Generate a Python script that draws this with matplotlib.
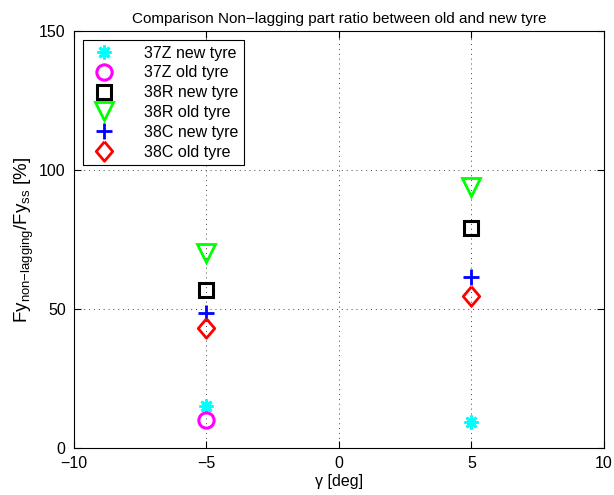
import numpy as np
import matplotlib.pyplot as plt

plt.rcParams['font.family'] = ['Liberation Sans', 'DejaVu Sans']
plt.rcParams['mathtext.fontset'] = 'custom'
plt.rcParams['mathtext.rm'] = 'Liberation Sans'

# camber angles [deg]
gamma = [-5, 5]

# non-lagging part ratio [%]
z37_new = [15.1, 9.3]
z37_old = [9.9, np.nan]
r38_new = [56.7, 79.0]
r38_old = [70.0, 93.8]
c38_new = [48.7, 61.6]
c38_old = [43.0, 54.7]

labels = ['37Z new tyre', '37Z old tyre', '38R new tyre',
          '38R old tyre', '38C new tyre', '38C old tyre']

fs = 11.5
diamond = [(0, 1), (0.85, 0), (0, -1), (-0.85, 0), (0, 1)]

fig = plt.figure(figsize=(6.14, 4.95), dpi=100)
ax = fig.add_axes([0.1205, 0.095, 0.863, 0.842])

ax.plot(gamma, z37_new, ls='none', marker=(8, 2, 0), ms=10, mew=2, color='#00ffff', label=labels[0])
ax.plot(gamma, z37_old, ls='none', marker='o', ms=11, mew=2.2, mfc='none', color='#ff00ff', label=labels[1])
ax.plot(gamma, r38_new, ls='none', marker='s', ms=10, mew=2.2, mfc='none', color='k', label=labels[2])
ax.plot(gamma, r38_old, ls='none', marker='v', ms=13, mew=2, mfc='none', color='#00ff00', label=labels[3])
ax.plot(gamma, c38_new, ls='none', marker='+', ms=12, mew=2, color='#0000ff', label=labels[4])
ax.plot(gamma, c38_old, ls='none', marker=diamond, ms=14, mew=2, mfc='none', color='#ff0000', label=labels[5])

ax.set_xlim(-10, 10)
ax.set_ylim(0, 150)
ax.set_xticks([-10, -5, 0, 5, 10])
ax.set_yticks([0, 50, 100, 150])
ax.grid(True, ls=(0, (1, 4)), lw=0.7, color='#444444')
ax.tick_params(direction='in', top=True, right=True, length=5, labelsize=fs, pad=6)
ax.xaxis.set_major_formatter(plt.FuncFormatter(lambda v, p: f'{v:g}'.replace('-', '\u2212')))

ax.set_title('Comparison Non\u2212lagging part ratio between old and new tyre', fontsize=11, pad=6)
ax.set_xlabel('\u03b3 [deg]', fontsize=fs, labelpad=2)
ax.set_ylabel(r'Fy$_{\mathregular{non{-}lagging}}$/Fy$_{\mathregular{ss}}$ [%]', fontsize=13.5, labelpad=2)

leg = ax.legend(loc='upper left', fontsize=fs, fancybox=False, edgecolor='k',
                framealpha=1, borderaxespad=0.55, handletextpad=1.5, labelspacing=0.3,
                borderpad=0.35)
leg.get_frame().set_linewidth(0.8)

fig.savefig('out.png')
